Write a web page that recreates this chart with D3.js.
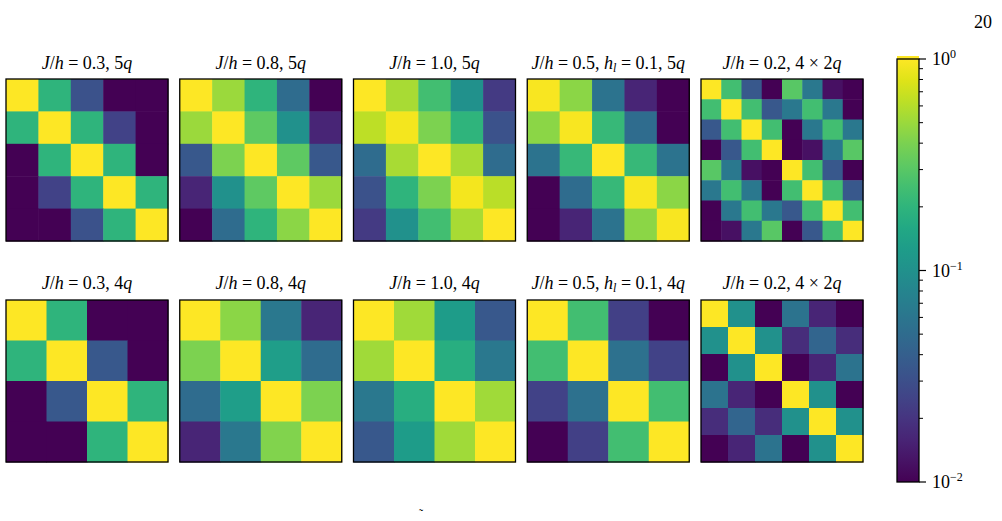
<!DOCTYPE html>
<html>
<head>
<meta charset="utf-8">
<script src="https://cdn.jsdelivr.net/npm/d3@7"></script>
<style>
  body { margin: 0; background: #fff; }
  text { font-family: "Liberation Serif", "DejaVu Serif", serif; fill: #000; }
</style>
</head>
<body>
<div class="chart"></div>
<script>
// DATA ------------------------------------
// values below 1e-2 are clamped to the darkest colour
const lo = 0.008;

const titlesTop = [
  [["J", "i"], ["/", ""], ["h", "i"], [" = 0.3, 5", ""], ["q", "i"]],
  [["J", "i"], ["/", ""], ["h", "i"], [" = 0.8, 5", ""], ["q", "i"]],
  [["J", "i"], ["/", ""], ["h", "i"], [" = 1.0, 5", ""], ["q", "i"]],
  [["J", "i"], ["/", ""], ["h", "i"], [" = 0.5, ", ""], ["h", "i"], ["l", "s"], [" = 0.1, 5", ""], ["q", "i"]],
  [["J", "i"], ["/", ""], ["h", "i"], [" = 0.2, 4 × 2", ""], ["q", "i"]]
];
const titlesBottom = [
  [["J", "i"], ["/", ""], ["h", "i"], [" = 0.3, 4", ""], ["q", "i"]],
  [["J", "i"], ["/", ""], ["h", "i"], [" = 0.8, 4", ""], ["q", "i"]],
  [["J", "i"], ["/", ""], ["h", "i"], [" = 1.0, 4", ""], ["q", "i"]],
  [["J", "i"], ["/", ""], ["h", "i"], [" = 0.5, ", ""], ["h", "i"], ["l", "s"], [" = 0.1, 4", ""], ["q", "i"]],
  [["J", "i"], ["/", ""], ["h", "i"], [" = 0.2, 4 × 2", ""], ["q", "i"]]
];

const m03_5q = [
  [1, 0.2, 0.032, lo, lo],
  [0.2, 1, 0.2, 0.025, lo],
  [lo, 0.2, 1, 0.2, lo],
  [lo, 0.025, 0.2, 1, 0.2],
  [lo, lo, 0.032, 0.2, 1]
];
const m08_5q = [
  [1, 0.5, 0.2, 0.05, lo],
  [0.5, 1, 0.32, 0.1, 0.016],
  [0.035, 0.4, 1, 0.32, 0.035],
  [0.016, 0.1, 0.32, 1, 0.5],
  [lo, 0.05, 0.2, 0.45, 1]
];
const m10_5q = [
  [1, 0.55, 0.25, 0.1, 0.022],
  [0.63, 0.93, 0.4, 0.2, 0.032],
  [0.05, 0.55, 1, 0.55, 0.05],
  [0.032, 0.2, 0.4, 0.93, 0.62],
  [0.022, 0.1, 0.25, 0.55, 1]
];
const m05hl_5q = [
  [0.95, 0.45, 0.058, 0.016, lo],
  [0.45, 0.95, 0.22, 0.05, lo],
  [0.058, 0.22, 1, 0.22, 0.058],
  [lo, 0.05, 0.22, 0.95, 0.45],
  [lo, 0.016, 0.058, 0.45, 0.95]
];
const m02_8 = [
  [1, 0.25, 0.035, lo, 0.3, 0.063, 0.012, lo],
  [0.25, 1, 0.25, 0.035, 0.063, 0.25, 0.063, lo],
  [0.035, 0.25, 1, 0.25, lo, 0.063, 0.25, 0.063],
  [lo, 0.035, 0.25, 1, lo, 0.012, 0.063, 0.3],
  [0.3, 0.063, 0.012, lo, 1, 0.25, 0.035, lo],
  [0.063, 0.25, 0.063, lo, 0.25, 1, 0.25, 0.035],
  [lo, 0.063, 0.25, 0.063, 0.035, 0.25, 1, 0.25],
  [lo, 0.012, 0.063, 0.3, lo, 0.035, 0.25, 1]
];

const m03_4q = [
  [1, 0.2, lo, lo],
  [0.2, 1, 0.035, lo],
  [lo, 0.035, 1, 0.2],
  [lo, lo, 0.2, 1]
];
const m08_4q = [
  [1, 0.45, 0.063, 0.016],
  [0.4, 1, 0.13, 0.05],
  [0.05, 0.13, 1, 0.4],
  [0.016, 0.063, 0.42, 1]
];
const m10_4q = [
  [1, 0.52, 0.126, 0.035],
  [0.52, 1, 0.18, 0.063],
  [0.063, 0.18, 1, 0.52],
  [0.035, 0.126, 0.52, 1]
];
const m05hl_4q = [
  [1, 0.25, 0.024, lo],
  [0.25, 1, 0.055, 0.025],
  [0.025, 0.055, 1, 0.25],
  [lo, 0.024, 0.25, 1]
];
const m02_6 = [
  [1, 0.1, lo, 0.058, 0.016, lo],
  [0.1, 1, 0.1, 0.018, 0.044, 0.018],
  [lo, 0.1, 1, lo, 0.016, 0.058],
  [0.058, 0.016, lo, 1, 0.1, lo],
  [0.018, 0.044, 0.018, 0.1, 1, 0.1],
  [lo, 0.016, 0.058, lo, 0.1, 1]
];

const rowTop = [m03_5q, m08_5q, m10_5q, m05hl_5q, m02_8];
const rowBottom = [m03_4q, m08_4q, m10_4q, m05hl_4q, m02_6];

const cbarTicks = [1, 0.1, 0.01];
const cbarLabels = ["0", "−1", "−2"];

// CHART -----------------------------------
const W = 1002, H = 521;
const svg = d3.select(".chart").append("svg")
  .attr("width", W)
  .attr("height", H);

const color = d3.scaleSequentialLog(d3.interpolateViridis)
  .domain([0.01, 1])
  .clamp(true);

const xPanel = d3.scaleBand()
  .domain(d3.range(5))
  .range([6, 863])
  .paddingInner(0.0676);

const rows = [
  {mats: rowTop, titles: titlesTop, y: 79, base: 69},
  {mats: rowBottom, titles: titlesBottom, y: 300, base: 289}
];
const size = xPanel.bandwidth();

function drawTitle(g, parts, x, y) {
  const t = g.append("text")
    .attr("x", x)
    .attr("y", y)
    .attr("text-anchor", "middle")
    .style("font-size", "18px");
  parts.forEach(p => {
    const ts = t.append("tspan").text(p[0]);
    if (p[1] === "i") ts.style("font-style", "italic");
    if (p[1] === "s") ts.style("font-style", "italic").style("font-size", "12px").attr("dy", 3);
    if (p[1] === "" && p[0].includes("0.1,")) ts.attr("dy", -3);
  });
}

rows.forEach(row => {
  row.mats.forEach((mat, i) => {
    const n = mat.length;
    const x0 = xPanel(i);
    const cx = d3.scaleBand().domain(d3.range(n)).range([x0, x0 + size]);
    const cy = d3.scaleBand().domain(d3.range(n)).range([row.y, row.y + size]);
    const g = svg.append("g");
    const cells = [];
    mat.forEach((r, ri) => r.forEach((v, ci) => cells.push({r: ri, c: ci, v: v})));
    g.selectAll("rect.cell")
      .data(cells)
      .enter()
      .append("rect")
      .attr("class", "cell")
      .attr("x", d => cx(d.c))
      .attr("y", d => cy(d.r))
      .attr("width", cx.bandwidth() + 0.5)
      .attr("height", cy.bandwidth() + 0.5)
      .attr("fill", d => color(d.v));
    g.append("rect")
      .attr("x", x0)
      .attr("y", row.y)
      .attr("width", size)
      .attr("height", size)
      .attr("fill", "none")
      .attr("stroke", "#000")
      .attr("stroke-width", 1.3);
    drawTitle(g, row.titles[i], x0 + size / 2, row.base);
  });
});

// colorbar
const cb = {x: 897, w: 22, top: 59, bottom: 482};
const yCbar = d3.scaleLog().domain([0.01, 1]).range([cb.bottom, cb.top]);

const defs = svg.append("defs");
const grad = defs.append("linearGradient")
  .attr("id", "vir")
  .attr("x1", 0).attr("y1", 1).attr("x2", 0).attr("y2", 0);
d3.range(0, 1.001, 0.05).forEach(t => {
  grad.append("stop")
    .attr("offset", t)
    .attr("stop-color", d3.interpolateViridis(t));
});

// thin yellow sliver above the bar, as in the original
svg.append("rect")
  .attr("x", cb.x)
  .attr("y", cb.top - 3)
  .attr("width", cb.w)
  .attr("height", 3)
  .attr("fill", d3.interpolateViridis(1));

svg.append("rect")
  .attr("x", cb.x)
  .attr("y", cb.top)
  .attr("width", cb.w)
  .attr("height", cb.bottom - cb.top)
  .attr("fill", "url(#vir)")
  .attr("stroke", "#000")
  .attr("stroke-width", 1.3);

const minor = [];
[0.01, 0.1].forEach(d => d3.range(2, 10).forEach(k => minor.push(d * k)));

svg.append("g")
  .selectAll("line")
  .data(minor)
  .enter()
  .append("line")
  .attr("x1", cb.x + cb.w)
  .attr("x2", cb.x + cb.w + 4)
  .attr("y1", d => yCbar(d))
  .attr("y2", d => yCbar(d))
  .attr("stroke", "#000")
  .attr("stroke-width", 1);

svg.append("g")
  .selectAll("line")
  .data(cbarTicks)
  .enter()
  .append("line")
  .attr("x1", cb.x + cb.w)
  .attr("x2", cb.x + cb.w + 7)
  .attr("y1", d => yCbar(d))
  .attr("y2", d => yCbar(d))
  .attr("stroke", "#000")
  .attr("stroke-width", 1.2);

const lab = svg.append("g")
  .selectAll("text")
  .data(cbarTicks)
  .enter()
  .append("text")
  .attr("x", cb.x + cb.w + 13)
  .attr("y", d => yCbar(d) + 6)
  .style("font-size", "18px");
lab.append("tspan").text("10");
lab.append("tspan")
  .attr("dy", -7)
  .style("font-size", "12px")
  .text((d, i) => cbarLabels[i]);

// page number and cut-off label fragment
svg.append("text")
  .attr("x", 992)
  .attr("y", 28)
  .attr("text-anchor", "end")
  .style("font-size", "18px")
  .text("20");

svg.append("text")
  .attr("x", 421)
  .attr("y", 518)
  .attr("text-anchor", "middle")
  .style("font-size", "12px")
  .text("˜");
</script>
</body>
</html>
